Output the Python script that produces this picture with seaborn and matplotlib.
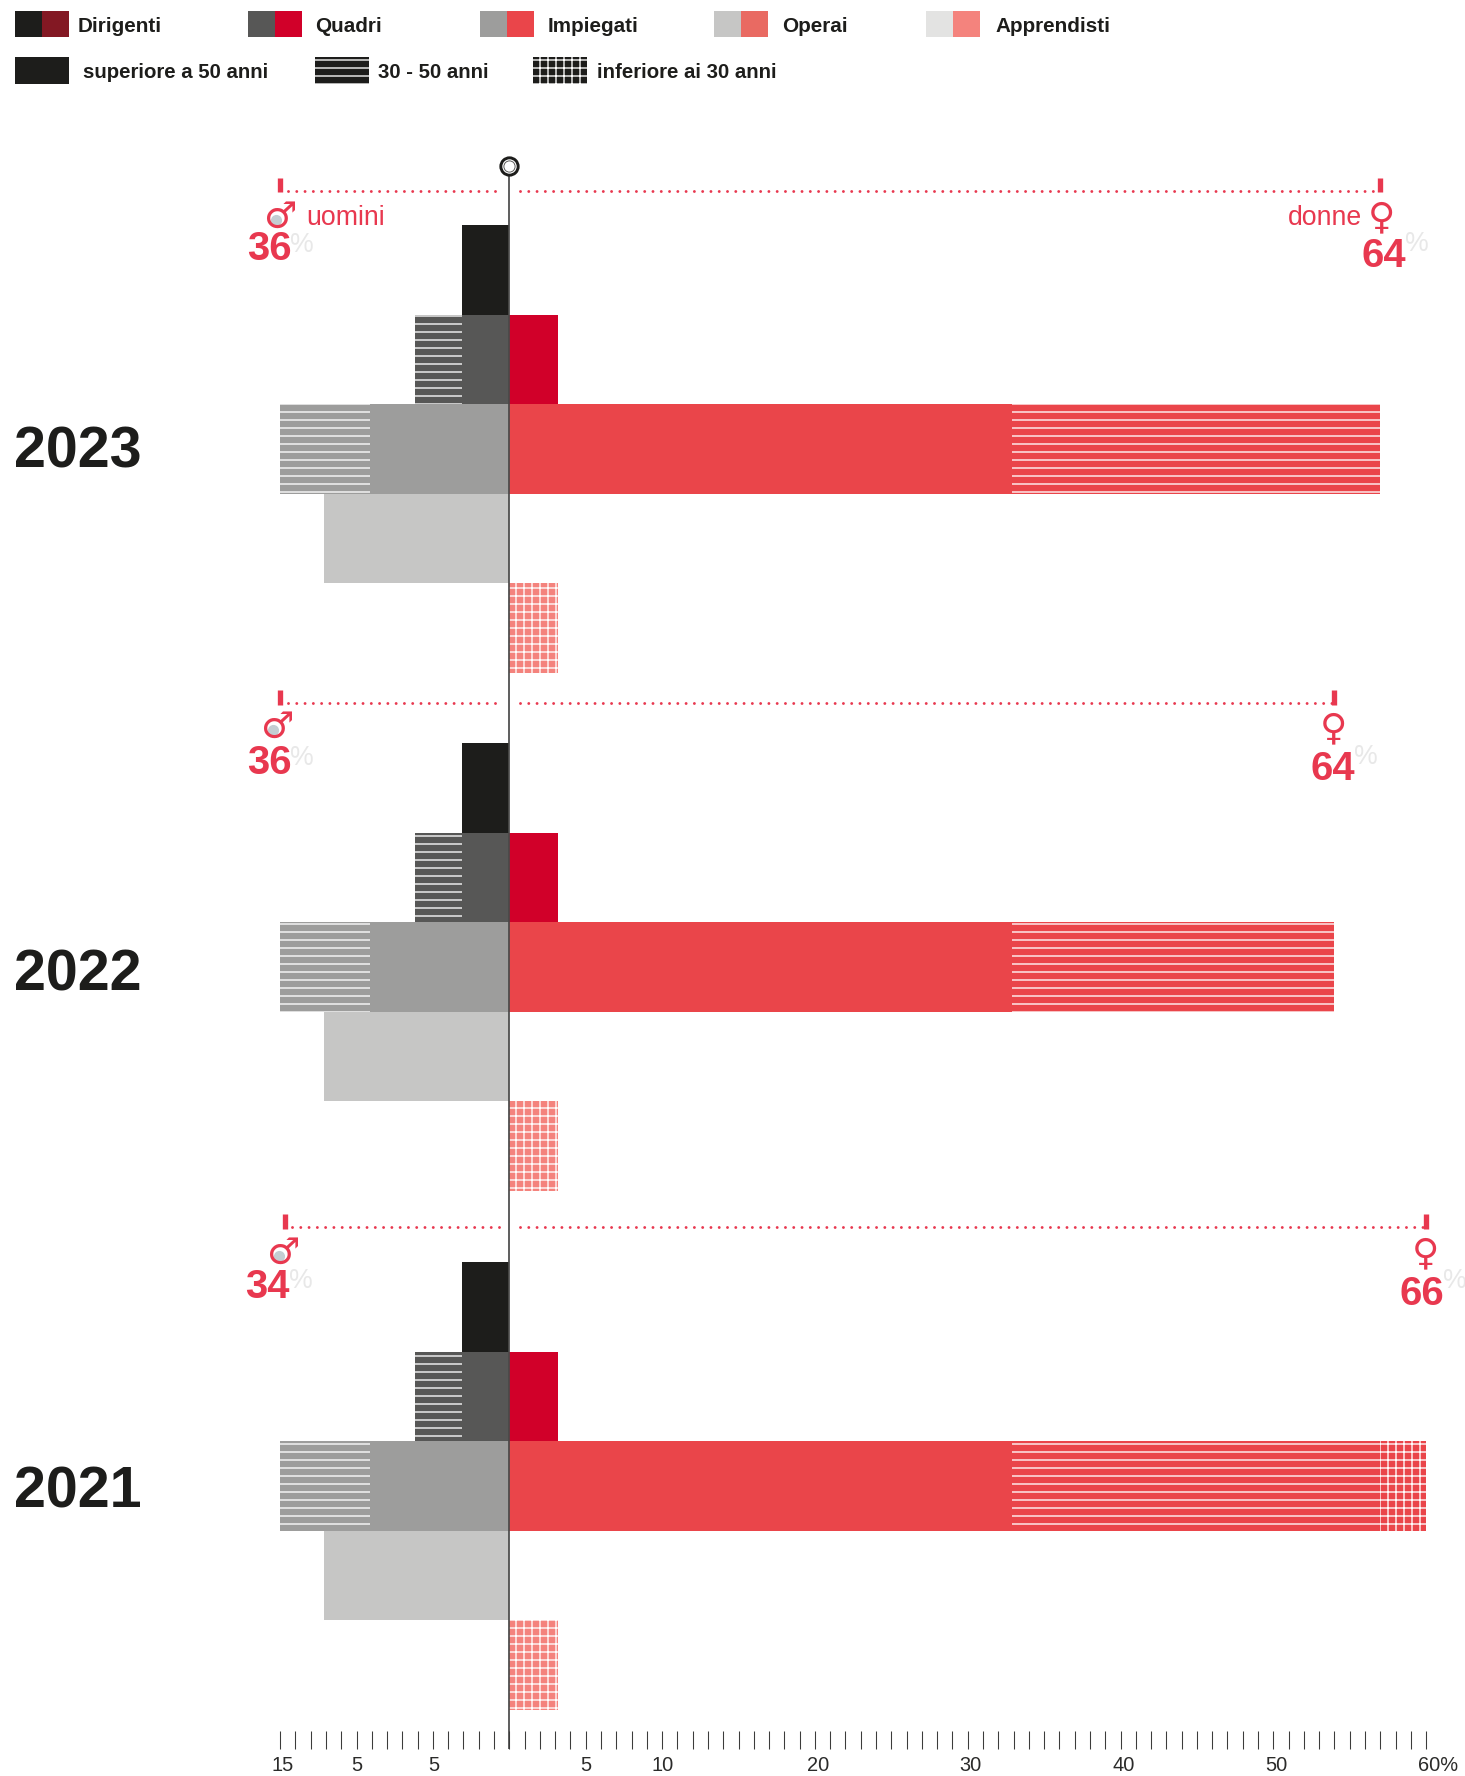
import matplotlib
matplotlib.use("Agg")
import matplotlib.pyplot as plt
from matplotlib.patches import Rectangle
from matplotlib.transforms import ScaledTranslation
import seaborn as sns

# Data
years = ["2023", "2022", "2021"]
categories = ["Dirigenti", "Quadri", "Impiegati", "Operai", "Apprendisti"]

men_over50 = [3.1, 3.1, 9.1, 12.1, 0]
men_mid = [0, 3.05, 5.9, 0, 0]
women_over50 = [0, 3.2, 32.9, 0, 0]
women_mid = [[0, 0, 24.1, 0, 0], [0, 0, 21.1, 0, 0], [0, 0, 24.1, 0, 0]]
women_under30 = [[0, 0, 0, 0, 3.2], [0, 0, 0, 0, 3.2], [0, 0, 3, 0, 3.2]]

men_share = ["36", "36", "34"]
women_share = ["64", "64", "66"]
bracket_men = [15, 15, 14.7]
bracket_women = [57, 54, 60]

men_colors = ["#1d1d1b", "#575756", "#9d9d9c", "#c6c6c5", "#e3e3e2"]
women_colors = ["#831823", "#d10029", "#ea454a", "#e96a62", "#f4837d"]
age_labels = ["superiore a 50 anni", "30 - 50 anni", "inferiore ai 30 anni"]

tick_major = [-15, -10, -5, 5, 10, 20, 30, 40, 50, 60]
tick_text = ["15", "5", "5", "5", "10", "20", "30", "40", "50", "60%"]

W, H = 1465, 1776
ZERO = 509.3
PX = 15.28
RED = "#e8384f"

sns.set_theme(style="white")
plt.rcParams["font.family"] = ["Liberation Sans", "DejaVu Sans"]
plt.rcParams["hatch.linewidth"] = 1.0
plt.rcParams["lines.scale_dashes"] = False

fig = plt.figure(figsize=(W / 96, H / 96), dpi=96, facecolor="white")
xlim = (-ZERO / PX, (W - ZERO) / PX)


def box(top, bottom):
    return [0, 1 - bottom / H, 1, (bottom - top) / H]


def layer(ax, values, colors, hatch=None):
    sns.barplot(x=values, y=categories, hue=categories, palette=colors,
                order=categories, hue_order=categories, orient="y", width=1,
                dodge=False, saturation=1, errorbar=None, legend=False, ax=ax,
                hatch=hatch, edgecolor="white", linewidth=0)


# one axes per year, bars stacked by drawing the longest first
tops = [225, 743, 1262]
for i, year in enumerate(years):
    ax = fig.add_axes(box(tops[i], tops[i] + 448), zorder=1)
    ax.patch.set_alpha(0)
    men_total = [-(a + b) for a, b in zip(men_over50, men_mid)]
    layer(ax, men_total, men_colors, "--")
    layer(ax, [-v for v in men_over50], men_colors)
    w_mid = [a + b for a, b in zip(women_over50, women_mid[i])]
    w_all = [a + b for a, b in zip(w_mid, women_under30[i])]
    layer(ax, w_all, women_colors, "++")
    layer(ax, w_mid, women_colors, "--")
    layer(ax, women_over50, women_colors)
    ax.set_xlim(xlim)
    ax.set_ylim(4.5, -0.5)
    ax.set_axis_off()

# overlay tied to the percent scale: centre line and brackets
ann = fig.add_axes([0, 0, 1, 1], zorder=2)
ann.patch.set_alpha(0)
ann.set_xlim(xlim)
ann.set_ylim(H, 0)
ann.set_axis_off()
ann.plot([0, 0], [166, 1749], color="#4a4a49", lw=1.3, solid_capstyle="butt")
ann.plot([0], [166], marker="o", ms=13, mfc="white", mec="#1d1d1b", mew=2.2)
ann.plot([0], [166], marker="o", ms=8.4, mfc="white", mec="#575756", mew=0.7)

bracket_y = [190.5, 703, 1227]
for i in range(3):
    y = bracket_y[i]
    left, right = -bracket_men[i], bracket_women[i]
    for a, b in [(left + 0.5, -0.5), (0.7, right - 0.1)]:
        ann.plot([a, b], [y, y], color=RED, lw=2.2, ls=(0, (0.01, 6.2)),
                 dash_capstyle="round")
    ann.plot([left, left], [y - 13, y + 1.5], color=RED, lw=4, solid_capstyle="butt")
    ann.plot([right, right], [y - 13, y + 1.5], color=RED, lw=4, solid_capstyle="butt")

# overlay in pixels: legend and labels
page = fig.add_axes([0, 0, 1, 1], zorder=3)
page.patch.set_alpha(0)
page.set_xlim(0, W)
page.set_ylim(H, 0)
page.set_axis_off()

swatch_x = [15, 248, 480, 714, 926]
label_x = [78, 315, 548, 782, 995]
for c, x0, lx, mc, wc in zip(categories, swatch_x, label_x, men_colors, women_colors):
    page.add_patch(Rectangle((x0, 11), 27, 26, fc=mc, lw=0))
    page.add_patch(Rectangle((x0 + 27, 11), 27, 26, fc=wc, lw=0))
    page.text(lx, 26, c, fontsize=15.5, fontweight="bold", color="#1d1d1b", va="center")

age_x = [15, 315, 533]
age_text_x = [83, 378, 597]
age_hatch = [None, "--", "++"]
for t, x0, lx, h in zip(age_labels, age_x, age_text_x, age_hatch):
    page.add_patch(Rectangle((x0, 57), 54, 27, fc="#1d1d1b", ec="white", lw=0, hatch=h))
    page.text(lx, 72, t, fontsize=15.3, fontweight="bold", color="#1d1d1b", va="center")

year_y = [452, 975.5, 1492.5]
for t, y in zip(years, year_y):
    page.text(14, y, t, fontsize=43, fontweight="bold", color="#1d1d1b", va="center")

page.text(306, 218, "uomini", fontsize=20, color=RED, va="center")
page.text(1362, 218, "donne", fontsize=20, color=RED, va="center", ha="right")

male_xy = [(280, 217), (277, 727), (283, 1253)]
male_num = [(269, 249), (269, 763), (267, 1287)]
male_pct = [(302, 245), (302, 758), (301, 1281)]
female_xy = [(1381, 218), (1333, 729), (1425, 1254)]
female_num = [(1384, 256), (1333, 769), (1422, 1294)]
female_pct = [(1417, 244), (1366, 757), (1455, 1281)]

for i in range(3):
    mx, my = male_xy[i]
    page.scatter([mx - 4.5], [my + 3], s=70, color="#c4cdd2", lw=0, zorder=1)
    page.text(mx, my, "\u2642", fontsize=28, fontweight="bold", family="DejaVu Sans",
              color=RED, ha="center", va="center", zorder=2)
    page.text(*female_xy[i], "\u2640", fontsize=28, fontweight="bold", family="DejaVu Sans",
              color=RED, ha="center", va="center")
    page.text(*male_num[i], men_share[i], fontsize=30, fontweight="bold", color=RED,
              ha="center", va="center")
    page.text(*female_num[i], women_share[i], fontsize=30, fontweight="bold", color=RED,
              ha="center", va="center")
    page.text(*male_pct[i], "%", fontsize=20, color="#e8e8e8", ha="center", va="center", zorder=0)
    page.text(*female_pct[i], "%", fontsize=20, color="#e8e8e8", ha="center", va="center", zorder=0)

# percent ruler at the bottom
ruler = fig.add_axes(box(1730, 1731), zorder=2)
ruler.patch.set_alpha(0)
ruler.set_xlim(xlim)
for s in ruler.spines.values():
    s.set_visible(False)
ruler.set_yticks([])
ruler.set_xticks(range(-15, 61), minor=True)
ruler.set_xticks(tick_major, tick_text)
ruler.tick_params(axis="x", which="both", direction="out", length=13.5, width=0.8,
                  color="#3c3c3b", bottom=True)
ruler.tick_params(axis="x", which="major", labelsize=15, labelcolor="#2b2b2a", pad=5)
for lab, t, pos in zip(ruler.get_xticklabels(), tick_text, tick_major):
    shift = 12 if t == "60%" else (3 if pos > 10 or pos == -15 else 0.5)
    lab.set_transform(lab.get_transform() + ScaledTranslation(shift / 96, 0, fig.dpi_scale_trans))

fig.savefig("out.png", dpi=96)
